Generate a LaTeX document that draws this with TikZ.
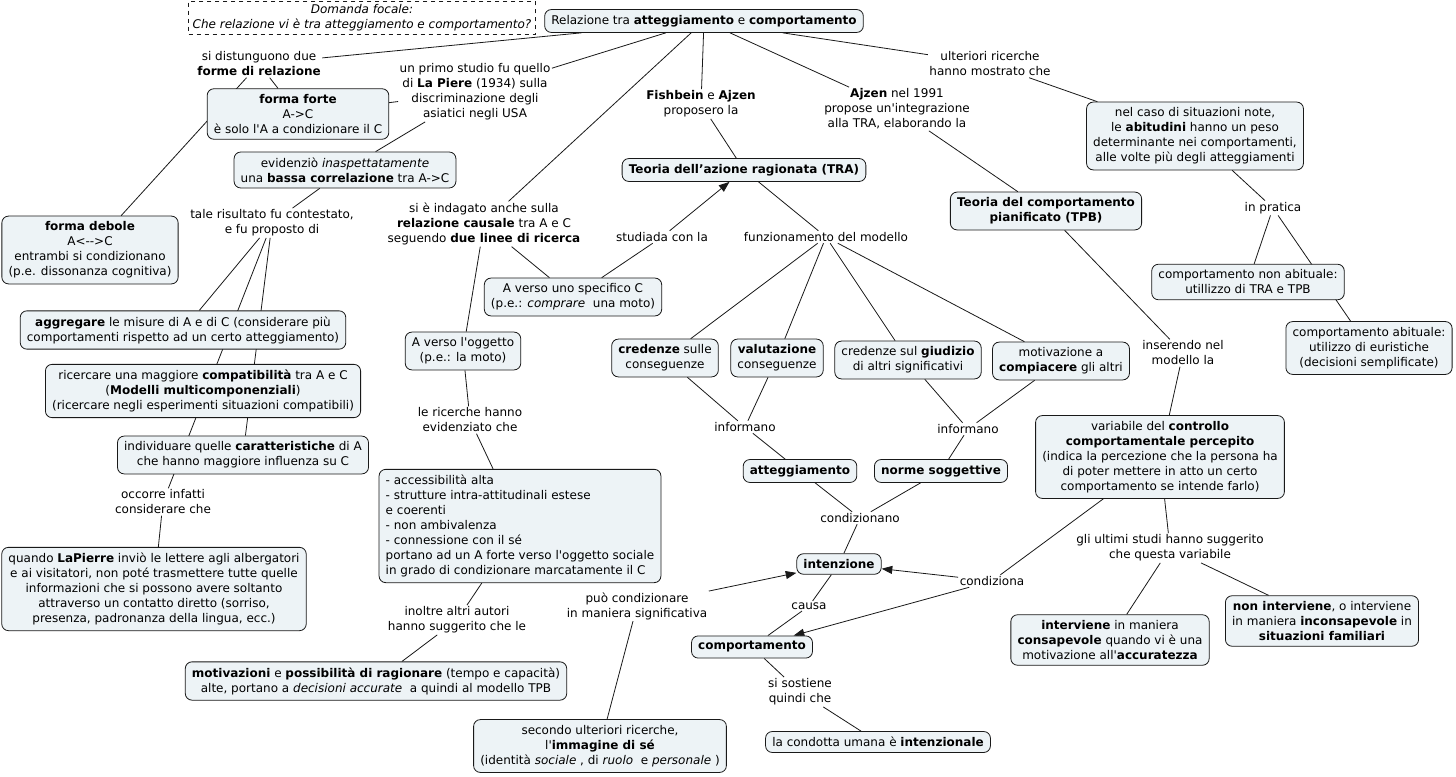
\documentclass[tikz,border=0pt]{standalone}
\usepackage{fontspec}
\usepackage{tikz}
\usetikzlibrary{arrows.meta}
\newfontfamily\mapfont{DejaVu Sans}
\definecolor{cmFill}{RGB}{237,243,246}
\definecolor{cmLine}{RGB}{25,25,25}
\pgfdeclarelayer{links}
\pgfsetlayers{links,main}

\begin{document}
\begin{tikzpicture}[x=0.75pt,y=-0.75pt,
    every node/.style={font=\mapfont\fontsize{9}{11.25}\selectfont},
    concept/.style={draw=cmLine, fill=cmFill, rounded corners=5pt, line width=0.6pt,
        align=center, inner xsep=5pt, inner ysep=4.2pt},
    linkphrase/.style={align=center, inner sep=1pt},
    focal/.style={draw=cmLine, dashed, line width=0.5pt, align=center, inner xsep=3pt, inner ysep=2.5pt,
        font=\mapfont\itshape\fontsize{9}{11.25}\selectfont},
    conn/.style={draw=cmLine, line width=0.6pt},
    arr/.style={conn, -{Triangle[length=8pt,width=6pt]}}]
    \useasboundingbox (0,0) rectangle (1456,777);

    % focal question and root
    \node[focal] (focus) at (362,18) {Domanda focale:\\Che relazione vi è tra atteggiamento e comportamento?};
    \node[concept] (root) at (704,21) {Relazione tra \textbf{atteggiamento} e \textbf{comportamento}};

    % left branch: forms of relation and La Piere
    \node[linkphrase] (distinguono) at (259,64) {si distunguono due\\\textbf{forme di relazione}};
    \node[concept] (forte) at (298,114) {\textbf{forma forte}\\A->C\\è solo l'A a condizionare il C};
    \node[concept] (debole) at (90,250) {\textbf{forma debole}\\A<-->C\\entrambi si condizionano\\(p.e. dissonanza cognitiva)};
    \node[linkphrase] (primostudio) at (475,92) {un primo studio fu quello\\di \textbf{La Piere} (1934) sulla\\discriminazione degli\\asiatici negli USA};
    \node[concept] (evidenzio) at (345,170) {evidenziò \textit{inaspettatamente}\\una \textbf{bassa correlazione} tra A->C};
    \node[linkphrase] (contestato) at (272,223) {tale risultato fu contestato,\\e fu proposto di};
    \node[concept] (aggregare) at (183,330) {\textbf{aggregare} le misure di A e di C (considerare più\\comportamenti rispetto ad un certo atteggiamento)};
    \node[concept] (compat) at (203,391) {ricercare una maggiore \textbf{compatibilità} tra A e C\\(\textbf{Modelli multicomponenziali})\\(ricercare negli esperimenti situazioni compatibili)};
    \node[concept] (caratt) at (243,455) {individuare quelle \textbf{caratteristiche} di A\\che hanno maggiore influenza su C};
    \node[linkphrase] (occorre) at (163,502) {occorre infatti\\considerare che};
    \node[concept] (lapierre) at (154,589) {quando \textbf{LaPierre} inviò le lettere agli albergatori\\e ai visitatori, non poté trasmettere tutte quelle\\informazioni che si possono avere soltanto\\attraverso un contatto diretto (sorriso,\\presenza, padronanza della lingua, ecc.)};

    % causal relation, two lines of research
    \node[linkphrase] (indagato) at (484,224) {si è indagato anche sulla\\\textbf{relazione causale} tra A e C\\seguendo \textbf{due linee di ricerca}};
    \node[concept] (specifico) at (573,297) {A verso uno specifico C\\(p.e.: \textit{comprare}\ \ una moto)};
    \node[linkphrase] (studiata) at (662,237) {studiada con la};
    \node[concept] (oggetto) at (463,351) {A verso l'oggetto\\(p.e.: la moto)};
    \node[linkphrase] (ricerche) at (470,420) {le ricerche hanno\\evidenziato che};
    \node[concept, align=left] (lista) at (520,526) {- accessibilità alta\\- strutture intra-attitudinali estese\\e coerenti\\- non ambivalenza\\- connessione con il sé\\portano ad un A forte verso l'oggetto sociale\\in grado di condizionare marcatamente il C};
    \node[linkphrase] (inoltre) at (457,620) {inoltre altri autori\\hanno suggerito che le};
    \node[concept] (motiv) at (376,681) {\textbf{motivazioni} e \textbf{possibilità di ragionare} (tempo e capacità)\\alte, portano a \textit{decisioni accurate}\ \ a quindi al modello TPB};
    \node[linkphrase] (puo) at (637,606) {può condizionare\\in maniera significativa};
    \node[concept] (immagine) at (600,746) {secondo ulteriori ricerche,\\l'\textbf{immagine di sé}\\(identità \textit{sociale} , di \textit{ruolo}\ \ e \textit{personale} )};

    % TRA
    \node[linkphrase] (fishbein) at (701,104) {\textbf{Fishbein} e \textbf{Ajzen}\\proposero la};
    \node[concept] (tra) at (744,170) {\textbf{Teoria dell’azione ragionata (TRA)}};
    \node[linkphrase] (funz) at (826,237) {funzionamento del modello};
    \node[concept] (credenze) at (665,358) {\textbf{credenze} sulle\\conseguenze};
    \node[concept] (valut) at (777,358) {\textbf{valutazione}\\conseguenze};
    \node[concept] (giudizio) at (908,360) {credenze sul \textbf{giudizio}\\di altri significativi};
    \node[concept] (compiac) at (1061,361) {motivazione a\\\textbf{compiacere} gli altri};
    \node[linkphrase] (inform1) at (745,427) {informano};
    \node[linkphrase] (inform2) at (968,429) {informano};
    \node[concept] (attegg) at (800,471) {\textbf{atteggiamento}};
    \node[concept] (norme) at (941,471) {\textbf{norme soggettive}};
    \node[linkphrase] (condizionano) at (860,518) {condizionano};
    \node[concept] (intenz) at (839,564) {\textbf{intenzione}};
    \node[linkphrase] (causa) at (809,606) {causa};
    \node[concept] (comport) at (752,647) {\textbf{comportamento}};
    \node[linkphrase] (sostiene) at (800,692) {si sostiene\\quindi che};
    \node[concept] (condotta) at (878,742) {la condotta umana è \textbf{intenzionale}};

    % TPB
    \node[linkphrase] (ajzen) at (897,109) {\textbf{Ajzen} nel 1991\\propose un'integrazione\\alla TRA, elaborando la};
    \node[concept] (tpb) at (1046,211) {\textbf{Teoria del comportamento}\\\textbf{pianificato (TPB)}};
    \node[linkphrase] (inserendo) at (1183,353) {inserendo nel\\modello la};
    \node[concept] (controllo) at (1160,457) {variabile del \textbf{controllo}\\\textbf{comportamentale percepito}\\(indica la percezione che la persona ha\\di poter mettere in atto un certo\\comportamento se intende farlo)};
    \node[linkphrase] (condiziona) at (992,581) {condiziona};
    \node[linkphrase] (ultimi) at (1170,548) {gli ultimi studi hanno suggerito\\che questa variabile};
    \node[concept] (interv) at (1110,640) {\textbf{interviene} in maniera\\\textbf{consapevole} quando vi è una\\motivazione all'\textbf{accuratezza}};
    \node[concept] (noninterv) at (1322,621) {\textbf{non interviene}, o interviene\\in maniera \textbf{inconsapevole} in\\\textbf{situazioni familiari}};

    % habits
    \node[linkphrase] (ulteriori) at (990,64) {ulteriori ricerche\\hanno mostrato che};
    \node[concept] (abitud) at (1195,136) {nel caso di situazioni note,\\le \textbf{abitudini} hanno un peso\\determinante nei comportamenti,\\alle volte più degli atteggiamenti};
    \node[linkphrase] (pratica) at (1273,208) {in pratica};
    \node[concept] (nonabit) at (1248,282) {comportamento non abituale:\\utillizzo di TRA e TPB};
    \node[concept] (abit) at (1369,348) {comportamento abituale:\\utilizzo di euristiche\\(decisioni semplificate)};

    % connectors, behind the concepts
    \begin{pgfonlayer}{links}
        \fill[white] (0,0) rectangle (1456,777);
        \draw[conn] (root) -- (distinguono);
        \draw[conn] (distinguono) -- (forte);
        \draw[conn] (distinguono) -- (debole);
        \draw[conn] (root) -- (primostudio);
        \draw[conn] (forte) -- (primostudio);
        \draw[conn] (primostudio) -- (evidenzio);
        \draw[conn] (evidenzio) -- (contestato);
        \draw[conn] (contestato) -- (aggregare);
        \draw[conn] (contestato) -- (occorre);
        \draw[conn] (contestato) -- (caratt);
        \draw[conn] (occorre) -- (lapierre);
        \draw[conn] (root) -- (indagato);
        \draw[conn] (indagato) -- (specifico);
        \draw[conn] (indagato) -- (oggetto);
        \draw[conn] (specifico) -- (studiata);
        \draw[arr] (studiata) -- (tra);
        \draw[conn] (oggetto) -- (ricerche);
        \draw[conn] (ricerche) -- (lista);
        \draw[conn] (lista) -- (inoltre);
        \draw[conn] (inoltre) -- (motiv);
        \draw[conn] (immagine) -- (puo);
        \draw[arr] (puo) -- (intenz);
        \draw[conn] (root) -- (fishbein);
        \draw[conn] (fishbein) -- (tra);
        \draw[conn] (tra) -- (funz);
        \foreach \c in {credenze,valut,giudizio,compiac}
            \draw[conn] (funz) -- (\c);
        \draw[conn] (credenze) -- (inform1);
        \draw[conn] (valut) -- (inform1);
        \draw[conn] (inform1) -- (attegg);
        \draw[conn] (giudizio) -- (inform2);
        \draw[conn] (compiac) -- (inform2);
        \draw[conn] (inform2) -- (norme);
        \draw[conn] (attegg) -- (condizionano);
        \draw[conn] (norme) -- (condizionano);
        \draw[conn] (condizionano) -- (intenz);
        \draw[conn] (intenz) -- (causa);
        \draw[conn] (causa) -- (comport);
        \draw[conn] (comport) -- (sostiene);
        \draw[conn] (sostiene) -- (condotta);
        \draw[conn] (root) -- (ajzen);
        \draw[conn] (ajzen) -- (tpb);
        \draw[conn] (tpb) -- (inserendo);
        \draw[conn] (inserendo) -- (controllo);
        \draw[conn] (controllo) -- (condiziona);
        \draw[arr] (condiziona) -- (intenz);
        \draw[arr] (condiziona) -- (comport);
        \draw[conn] (controllo) -- (ultimi);
        \draw[conn] (ultimi) -- (interv);
        \draw[conn] (ultimi) -- (noninterv);
        \draw[conn] (root) -- (ulteriori);
        \draw[conn] (ulteriori) -- (abitud);
        \draw[conn] (abitud) -- (pratica);
        \draw[conn] (pratica) -- (nonabit);
        \draw[conn] (pratica) -- (abit);
    \end{pgfonlayer}
\end{tikzpicture}
\end{document}
